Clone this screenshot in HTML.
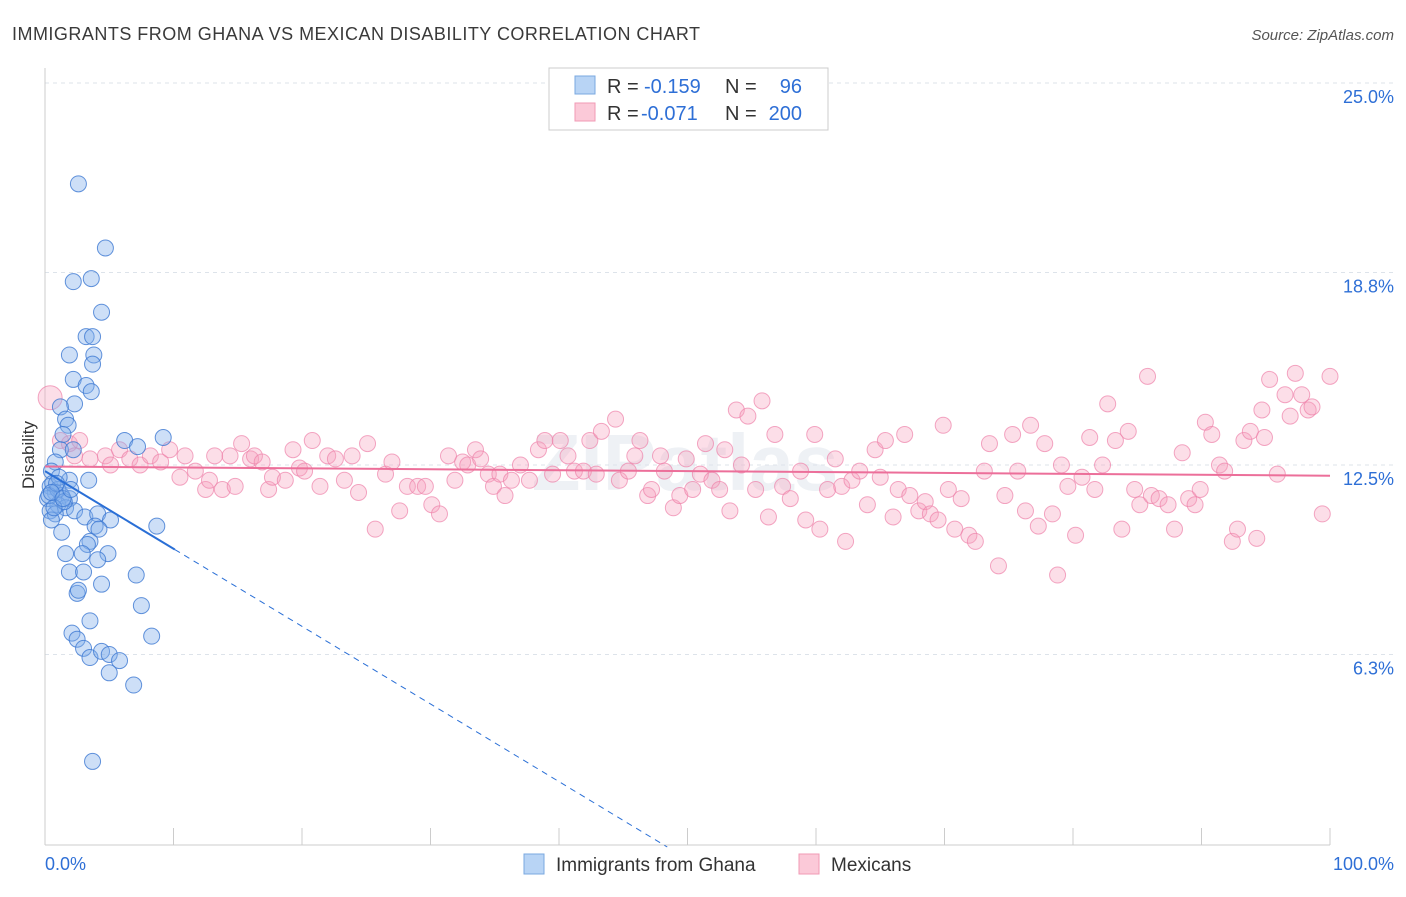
<!DOCTYPE html>
<html><head><meta charset="utf-8"><style>
body{margin:0;background:#fff;font-family:"Liberation Sans",sans-serif;}
svg text{font-family:"Liberation Sans",sans-serif;}
</style></head><body>
<svg id="chart" width="1406" height="892" xmlns="http://www.w3.org/2000/svg">
<text x="12" y="40" font-size="18" fill="#3a3a3a" textLength="688" lengthAdjust="spacing">IMMIGRANTS FROM GHANA VS MEXICAN DISABILITY CORRELATION CHART</text>
<text x="1394" y="40" font-size="15" fill="#555" font-style="italic" text-anchor="end">Source: ZipAtlas.com</text>
<text x="685" y="490" font-size="80" fill="#eef1f5" text-anchor="middle" font-weight="bold">ZIPatlas</text>
<g id="grid"></g>
<g id="axes"></g>
<g id="pinkPts"></g>
<g id="bluePts"></g>
<g id="lines"></g>
<text x="34" y="455" font-size="17" fill="#333" text-anchor="middle" transform="rotate(-90 34 455)">Disability</text>
<g>
<rect x="549" y="68" width="279" height="62" fill="#fff" stroke="#ccc"/>
<rect x="575" y="76" width="20" height="18" fill="#b8d4f5" stroke="#7aa8e0"/>
<rect x="575" y="103" width="20" height="18" fill="#fbc9d8" stroke="#f09ab5"/>
<text x="607" y="93" font-size="20" fill="#333">R =</text>
<text x="644" y="93" font-size="20" fill="#2e6fd6">-0.159</text>
<text x="725" y="93" font-size="20" fill="#333">N =</text>
<text x="802" y="93" font-size="20" fill="#2e6fd6" text-anchor="end">96</text>
<text x="607" y="120" font-size="20" fill="#333">R =</text>
<text x="641" y="120" font-size="20" fill="#2e6fd6">-0.071</text>
<text x="725" y="120" font-size="20" fill="#333">N =</text>
<text x="802" y="120" font-size="20" fill="#2e6fd6" text-anchor="end">200</text>
</g>
<g>
<rect x="524" y="854" width="20" height="20" fill="#b8d4f5" stroke="#7aa8e0"/>
<text x="556" y="871" font-size="19" fill="#333">Immigrants from Ghana</text>
<rect x="799" y="854" width="20" height="20" fill="#fbc9d8" stroke="#f09ab5"/>
<text x="831" y="871" font-size="19" fill="#333">Mexicans</text>
</g>
</svg>
<script>
const yTicks=[25.0,18.8,12.5,6.3];
const yTickLabels=["25.0%","18.8%","12.5%","6.3%"];
const xTicks=[0,10,20,30,40,50,60,70,80,90,100];
const xEndLabels=["0.0%","100.0%"];
const blueX=[2.6,4.7,2.2,3.6,4.4,3.2,3.7,1.9,3.8,3.7,2.2,3.2,3.6,2.3,1.2,1.6,1.8,1.4,6.2,9.2,7.2,1.2,2.2,0.8,0.5,3.4,1.9,0.4,0.8,1.3,0.2,1.9,1.0,0.4,1.6,2.3,0.8,3.1,4.1,5.1,0.5,3.9,8.7,1.3,4.2,3.5,3.3,1.6,2.9,4.9,4.1,1.9,3.0,7.1,4.4,2.5,2.6,7.5,3.5,2.1,2.5,8.3,3.0,3.5,4.4,5.0,5.8,5.0,6.9,3.7,0.6,1.0,0.3,1.5,0.7,1.1,0.9,0.5,1.4,2.0];
const blueY=[21.7,19.6,18.5,18.6,17.5,16.7,16.7,16.1,16.1,15.8,15.3,15.1,14.9,14.5,14.4,14.0,13.8,13.5,13.3,13.4,13.1,13.0,13.0,12.6,12.3,12.0,12.0,11.8,11.6,11.5,11.4,11.4,11.2,11.0,11.1,11.0,10.9,10.8,10.9,10.7,10.7,10.5,10.5,10.3,10.4,10.0,9.9,9.6,9.6,9.6,9.4,9.0,9.0,8.9,8.6,8.3,8.4,7.9,7.4,7.0,6.8,6.9,6.5,6.2,6.4,6.3,6.1,5.7,5.3,2.8,11.9,11.7,11.5,11.3,11.1,12.1,11.9,11.6,11.4,11.7];
const pinkX=[0.4,1.2,1.9,2.7,2.3,3.5,4.7,5.1,5.8,6.6,7.4,8.2,9.0,9.7,10.5,10.9,11.7,12.5,12.8,13.2,13.8,14.4,14.8,15.3,16.0,16.3,16.9,17.4,17.7,18.7,19.3,19.8,20.2,20.8,21.4,22.0,22.6,23.3,23.9,24.4,25.1,25.7,26.5,27.0,27.6,28.2,29.0,29.6,30.1,30.7,31.4,31.9,32.5,32.9,33.5,33.9,34.5,34.9,35.4,35.8,36.3,37.0,37.7,38.4,38.9,39.5,40.1,40.7,41.2,41.9,42.4,42.9,43.3,44.4,44.7,45.4,45.9,46.3,46.9,47.2,47.9,48.2,48.9,49.4,49.9,50.4,51.0,51.4,51.9,52.5,52.9,53.3,53.8,54.2,54.7,55.3,55.8,56.3,56.8,57.4,58.0,58.8,59.2,59.9,60.3,60.9,61.5,62.0,62.3,62.8,63.4,64.0,64.6,65.0,65.4,66.0,66.4,66.9,67.3,68.0,68.5,68.9,69.5,69.9,70.3,70.8,71.3,71.9,72.4,73.1,73.5,74.2,74.7,75.3,75.7,76.3,76.7,77.3,77.8,78.4,78.8,79.1,79.6,80.2,80.7,81.3,81.7,82.3,82.7,83.3,83.8,84.3,84.8,85.2,85.8,86.1,86.7,87.4,87.9,88.5,89.0,89.5,89.9,90.3,90.8,91.4,91.8,92.4,92.8,93.3,93.8,94.3,94.7,94.9,95.3,95.9,96.5,96.9,97.3,97.8,98.3,98.6,99.4,100];
const pinkY=[14.7,13.3,13.2,13.3,12.8,12.7,12.8,12.5,13.0,12.7,12.5,12.8,12.6,13.0,12.1,12.8,12.3,11.7,12.0,12.8,11.7,12.8,11.8,13.2,12.7,12.8,12.6,11.7,12.1,12.0,13.0,12.4,12.3,13.3,11.8,12.8,12.7,12.0,12.8,11.6,13.2,10.4,12.2,12.6,11.0,11.8,11.8,11.8,11.2,10.9,12.8,12.0,12.6,12.5,13.0,12.7,12.2,11.8,12.2,11.5,12.0,12.5,12.0,13.0,13.3,12.2,13.3,12.8,12.3,12.3,13.3,12.2,13.6,14.0,12.0,12.3,12.8,13.3,11.5,11.7,12.8,12.3,11.1,11.5,12.7,11.7,12.2,13.2,12.0,11.7,13.0,11.0,14.3,12.5,14.1,11.7,14.6,10.8,13.5,11.8,11.4,12.3,10.7,13.5,10.4,11.7,12.7,11.8,10.0,12.0,12.3,11.2,13.0,12.1,13.3,10.8,11.7,13.5,11.5,11.0,11.3,10.9,10.7,13.8,11.7,10.4,11.4,10.2,10.0,12.3,13.2,9.2,11.5,13.5,12.3,11.0,13.8,10.5,13.2,10.9,8.9,12.5,11.8,10.2,12.1,13.4,11.7,12.5,14.5,13.3,10.4,13.6,11.7,11.2,15.4,11.5,11.4,11.2,10.4,12.9,11.4,11.2,11.7,13.9,13.5,12.5,12.3,10.0,10.4,13.3,13.6,10.1,14.3,13.4,15.3,12.2,14.8,14.1,15.5,14.8,14.3,14.4,10.9,15.4];
const blueFit=[12.3,-0.254];
const pinkFit=[12.45,-0.003];
const NS="http://www.w3.org/2000/svg";
const X=v=>45+v*12.85;
const Y=v=>847-v*30.56;
function mk(tag,attrs,parent){const e=document.createElementNS(NS,tag);for(const k in attrs)e.setAttribute(k,attrs[k]);parent.appendChild(e);return e;}
const grid=document.getElementById('grid'),axes=document.getElementById('axes');
yTicks.forEach((t,i)=>{
 const l=mk('line',{x1:45,x2:1394,y1:Y(t),y2:Y(t),stroke:'#dde3ea','stroke-dasharray':'4,4'},grid);
 
 
 const tx=mk('text',{x:1394,y:Y(t)+20,'font-size':18,fill:'#2e6fd6','text-anchor':'end'},axes);
 tx.textContent=yTickLabels[i];
 
 
});
const ax=mk('line',{x1:45,x2:1330,y1:845,y2:845,stroke:'#ccc'},axes);


const ay=mk('line',{x1:45,x2:45,y1:68,y2:845,stroke:'#ccc'},axes);


xTicks.forEach(t=>{
 const l=mk('line',{x1:X(t),x2:X(t),y1:828,y2:845,stroke:'#ccc'},axes);
 
 
});
const xl0=mk('text',{x:45,y:870,'font-size':18,fill:'#2e6fd6'},axes);xl0.textContent=xEndLabels[0];


const xl1=mk('text',{x:1394,y:870,'font-size':18,fill:'#2e6fd6','text-anchor':'end'},axes);xl1.textContent=xEndLabels[1];


const pg=document.getElementById('pinkPts');
pinkX.forEach((x,i)=>{
 const c=mk('circle',{cx:X(x),cy:Y(pinkY[i]),r:i===0?12:8,fill:'rgba(246,160,190,0.35)',stroke:'rgba(238,130,170,0.7)','stroke-width':1},pg);
 
 
});
const bg=document.getElementById('bluePts');
blueX.forEach((x,i)=>{
 const c=mk('circle',{cx:X(x),cy:Y(blueY[i]),r:8,fill:'rgba(130,175,235,0.4)',stroke:'rgba(60,120,210,0.8)','stroke-width':1},bg);
 
 
});
const lg=document.getElementById('lines');
const bEnd=10.1, bZero=-blueFit[0]/blueFit[1];
const b1=mk('line',{x1:X(0),y1:Y(blueFit[0]),x2:X(bEnd),y2:Y(blueFit[0]+blueFit[1]*bEnd),stroke:'#2a6fd6','stroke-width':2},lg);


const b2=mk('line',{x1:X(bEnd),y1:Y(blueFit[0]+blueFit[1]*bEnd),x2:X(bZero),y2:Y(0),stroke:'#2a6fd6','stroke-width':1,'stroke-dasharray':'6,5'},lg);


const p1=mk('line',{x1:X(0),y1:Y(pinkFit[0]),x2:X(100),y2:Y(pinkFit[0]+pinkFit[1]*100),stroke:'#ec6f9a','stroke-width':2},lg);


</script>
</body></html>
